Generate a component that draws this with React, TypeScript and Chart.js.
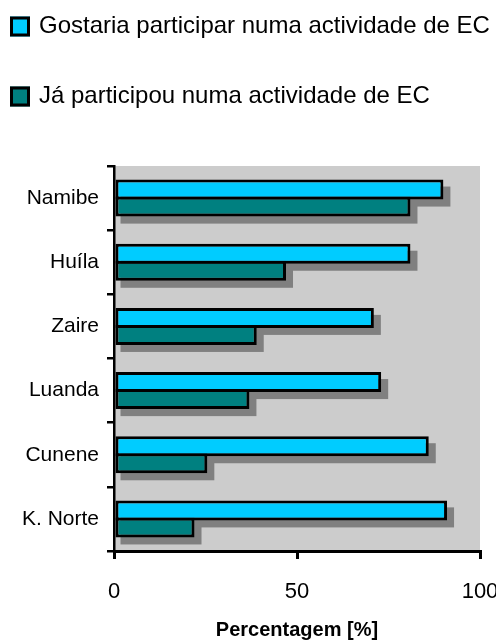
import React, { useEffect, useRef } from "react";
import { Chart, registerables } from "chart.js";

Chart.register(...registerables);

const categories = ["Namibe", "Huíla", "Zaire", "Luanda", "Cunene", "K. Norte"];
const seriesNames = [
  "Gostaria participar numa actividade de EC",
  "Já participou numa actividade de EC",
];
const gostariaValues = [90, 81, 71, 73, 86, 91];
const participouValues = [81, 47, 39, 37, 25.5, 22];
const xTickValues = [0, 50, 100];
const axisTitle = "Percentagem [%]";

const FONT = "'Liberation Sans', Arial, Helvetica, sans-serif";

const bgPlugin = {
  id: "plotBg",
  beforeDraw(chart: any) {
    const { ctx, chartArea } = chart;
    ctx.save();
    ctx.fillStyle = "#cccccc";
    ctx.fillRect(chartArea.left, chartArea.top, chartArea.right - chartArea.left, chartArea.bottom - chartArea.top);
    ctx.restore();
  },
};

const shadowPlugin = {
  id: "barShadow",
  beforeDatasetsDraw(chart: any) {
    const { ctx } = chart;
    ctx.save();
    ctx.fillStyle = "#808080";
    chart.data.datasets.forEach((_: any, di: number) => {
      const meta = chart.getDatasetMeta(di);
      meta.data.forEach((el: any) => {
        const p = el.getProps(["x", "y", "base", "height"], true);
        const left = p.base + 5;
        const right = p.x + 7;
        const top = p.y - p.height / 2 + 7;
        ctx.fillRect(left, top, right - left, p.height);
      });
    });
    ctx.restore();
  },
};

const legendPlugin = {
  id: "customLegend",
  afterDraw(chart: any) {
    const { ctx } = chart;
    ctx.save();
    const rows = [26.5, 96.5];
    chart.data.datasets.forEach((ds: any, i: number) => {
      const cy = rows[i];
      ctx.fillStyle = ds.backgroundColor;
      ctx.fillRect(10, cy - 10, 20, 20);
      ctx.strokeStyle = "#000";
      ctx.lineWidth = 3;
      ctx.strokeRect(11.5, cy - 8.5, 17, 17);
      ctx.fillStyle = "#000";
      ctx.font = `24px ${FONT}`;
      ctx.textBaseline = "middle";
      ctx.textAlign = "left";
      ctx.fillText(ds.label, 39, cy);
    });
    ctx.restore();
  },
};

export default function App() {
  const ref = useRef<HTMLCanvasElement | null>(null);

  useEffect(() => {
    document.body.style.margin = "0";
    document.body.style.overflow = "hidden";
    const canvas = ref.current;
    if (!canvas) return;
    const barCommon = {
      borderColor: "#000000",
      borderWidth: 3,
      borderSkipped: false,
      barPercentage: 1.176,
      categoryPercentage: 0.531,
    };
    const chart = new Chart(canvas, {
      type: "bar",
      data: {
        labels: categories,
        datasets: [
          {
            label: seriesNames[0],
            data: gostariaValues,
            backgroundColor: "#00ccff",
            ...barCommon,
          },
          {
            label: seriesNames[1],
            data: participouValues,
            backgroundColor: "#008080",
            ...barCommon,
          },
        ],
      },
      options: {
        indexAxis: "y",
        animation: false,
        responsive: false,
        devicePixelRatio: 1,
        layout: { padding: { top: 166, right: 16, left: 0, bottom: 0 } },
        plugins: {
          legend: { display: false },
          tooltip: { enabled: false },
        },
        scales: {
          x: {
            min: 0,
            max: 100,
            afterFit(scale: any) {
              scale.height = 89;
              scale.paddingLeft = 0;
              scale.paddingRight = 0;
            },
            afterBuildTicks(scale: any) {
              scale.ticks = xTickValues.map((v) => ({ value: v }));
            },
            ticks: {
              color: "#000",
              font: { family: FONT, size: 22 },
              padding: 20,
              maxRotation: 0,
            },
            grid: {
              display: true,
              drawOnChartArea: false,
              drawTicks: true,
              tickLength: 8,
              color: "#000",
              lineWidth: 3,
            },
            border: { display: true, color: "#000", width: 3 },
            title: {
              display: true,
              text: axisTitle,
              color: "#000",
              font: { family: FONT, size: 20, weight: "bold", lineHeight: 1 },
              padding: { top: 0, bottom: 0 },
            },
          },
          y: {
            afterFit(scale: any) {
              scale.width = 114;
              scale.paddingTop = 0;
              scale.paddingBottom = 0;
            },
            ticks: {
              color: "#000",
              font: { family: FONT, size: 21 },
              padding: 8,
            },
            grid: {
              display: true,
              offset: true,
              drawOnChartArea: false,
              drawTicks: true,
              tickLength: 7,
              color: "#000",
              lineWidth: 2.5,
            },
            border: { display: true, color: "#000", width: 2.5 },
          },
        },
      },
      plugins: [bgPlugin, shadowPlugin, legendPlugin],
    });
    return () => chart.destroy();
  }, []);

  return (
    <div style={{ width: 496, height: 640 }}>
      <canvas ref={ref} width={496} height={640} style={{ display: "block" }} />
    </div>
  );
}
